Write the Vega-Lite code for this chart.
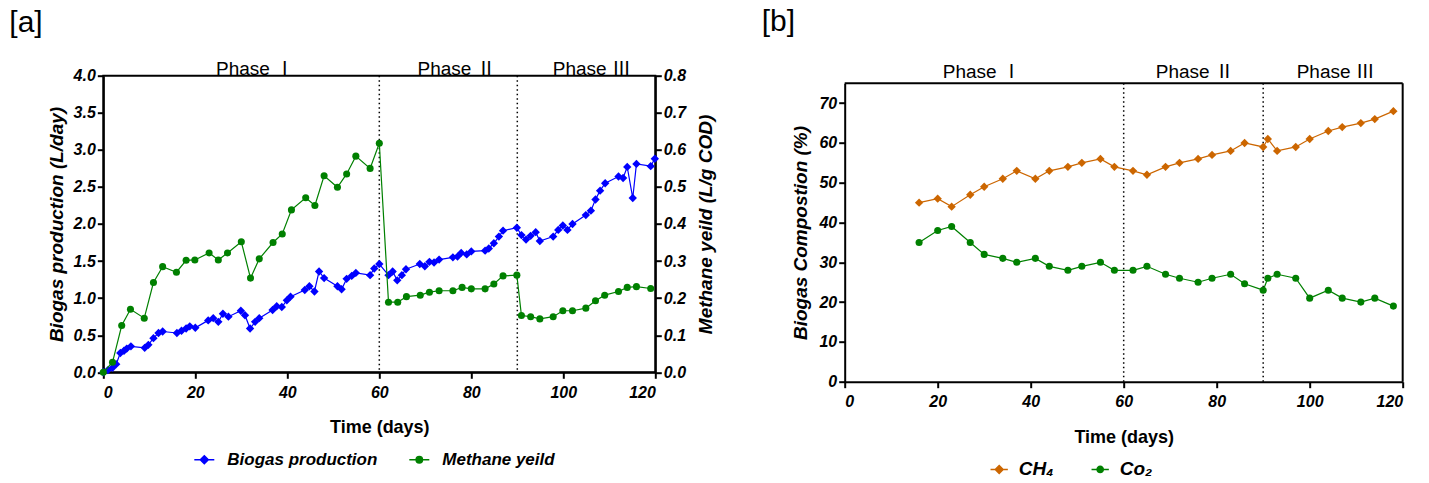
{
  "$schema": "https://vega.github.io/schema/vega-lite/v6.json",
  "autosize": {"type": "none"},
  "padding": {"left": 103.3, "top": 75.7, "right": 1325, "bottom": 407},
  "bounds": "flush",
  "spacing": 189.4,
  "background": "white",
  "resolve": {"scale": {"fill": "independent", "stroke": "independent", "shape": "independent"}, "legend": {"fill": "independent", "stroke": "independent", "shape": "independent"}},
  "config": {
    "font": "Liberation Sans",
    "axis": {
      "domainColor": "black", "domainWidth": 2, "tickColor": "black", "tickWidth": 2, "tickSize": 6,
      "labelFont": "Liberation Sans", "labelFontSize": 16, "labelFontWeight": "bold",
      "labelFontStyle": "italic", "labelColor": "black", "labelPadding": 2, "labelOverlap": false,
      "titleFont": "Liberation Sans", "titleFontSize": 19, "titleFontWeight": "bold", "titleFontStyle": "italic",
      "titleColor": "black", "grid": false
    },
    "axisX": {"labelPadding": 6, "titleFontStyle": "normal", "titleFontSize": 18},
    "legend": {
      "labelFont": "Liberation Sans", "labelFontWeight": "bold", "labelFontStyle": "italic", "labelColor": "black",
      "padding": 0, "orient": "none", "direction": "horizontal"
    },
    "title": {"font": "Liberation Sans", "fontSize": 30, "fontWeight": "normal", "color": "black", "anchor": "start", "frame": "group", "baseline": "alphabetic"}
  },
  "datasets": {
    "biogas": [
      {"day":0,"v":0.0},{"day":1,"v":0.03},{"day":2,"v":0.06},{"day":2.8,"v":0.11},{"day":3.7,"v":0.26},{"day":4.5,"v":0.29},{"day":5.1,"v":0.32},{"day":6,"v":0.35},
      {"day":9,"v":0.33},{"day":9.8,"v":0.37},{"day":10.9,"v":0.46},{"day":12,"v":0.53},{"day":12.9,"v":0.55},{"day":16,"v":0.53},{"day":17,"v":0.56},{"day":18,"v":0.59},
      {"day":18.8,"v":0.62},{"day":20,"v":0.6},{"day":22.8,"v":0.7},{"day":23.9,"v":0.73},{"day":25,"v":0.68},{"day":26,"v":0.79},{"day":27.2,"v":0.75},{"day":29.9,"v":0.83},
      {"day":30.8,"v":0.77},{"day":31.9,"v":0.59},{"day":33,"v":0.68},{"day":33.9,"v":0.73},{"day":36.8,"v":0.84},{"day":37.7,"v":0.89},{"day":38.8,"v":0.88},{"day":39.9,"v":0.97},
      {"day":40.7,"v":1.02},{"day":43.8,"v":1.11},{"day":44.8,"v":1.16},{"day":45.9,"v":1.09},{"day":46.9,"v":1.36},{"day":48,"v":1.27},{"day":50.9,"v":1.16},{"day":51.8,"v":1.12},
      {"day":52.9,"v":1.26},{"day":54,"v":1.3},{"day":54.9,"v":1.34},{"day":58,"v":1.31},{"day":58.9,"v":1.4},{"day":60,"v":1.46},{"day":62,"v":1.31},{"day":62.9,"v":1.36},
      {"day":63.9,"v":1.24},{"day":64.9,"v":1.31},{"day":65.8,"v":1.39},{"day":68.8,"v":1.46},{"day":69.9,"v":1.43},{"day":70.9,"v":1.49},{"day":71.9,"v":1.48},{"day":73,"v":1.52},
      {"day":76,"v":1.55},{"day":77,"v":1.56},{"day":77.8,"v":1.61},{"day":79,"v":1.59},{"day":80,"v":1.63},{"day":83,"v":1.64},{"day":83.8,"v":1.67},{"day":84.9,"v":1.74},
      {"day":86,"v":1.83},{"day":86.9,"v":1.91},{"day":89.9,"v":1.95},{"day":90.9,"v":1.85},{"day":91.9,"v":1.79},{"day":92.9,"v":1.84},{"day":94,"v":1.89},{"day":94.9,"v":1.77},
      {"day":97.8,"v":1.83},{"day":98.9,"v":1.92},{"day":99.9,"v":1.98},{"day":100.9,"v":1.92},{"day":102,"v":2.0},{"day":104.9,"v":2.12},{"day":106,"v":2.18},{"day":107,"v":2.33},
      {"day":108,"v":2.45},{"day":109.1,"v":2.55},{"day":112,"v":2.64},{"day":113,"v":2.62},{"day":113.9,"v":2.77},{"day":115.1,"v":2.35},{"day":115.9,"v":2.81},{"day":119,"v":2.78},
      {"day":119.9,"v":2.88}
    ],
    "methane": [
      {"day":0,"v":0.0},{"day":2,"v":0.027},{"day":4,"v":0.126},{"day":5.9,"v":0.17},{"day":8.9,"v":0.146},{"day":10.9,"v":0.242},{"day":12.9,"v":0.285},{"day":15.9,"v":0.27},
      {"day":18,"v":0.302},{"day":19.9,"v":0.303},{"day":23,"v":0.322},{"day":25,"v":0.303},{"day":27,"v":0.322},{"day":30,"v":0.352},{"day":32,"v":0.254},{"day":33.9,"v":0.306},
      {"day":36.9,"v":0.35},{"day":38.9,"v":0.373},{"day":40.9,"v":0.438},{"day":44,"v":0.471},{"day":46,"v":0.45},{"day":48,"v":0.53},{"day":50.9,"v":0.499},{"day":52.9,"v":0.535},
      {"day":54.9,"v":0.583},{"day":58,"v":0.55},{"day":60,"v":0.618},{"day":62,"v":0.189},{"day":64,"v":0.189},{"day":65.9,"v":0.204},{"day":68.9,"v":0.208},{"day":70.9,"v":0.216},
      {"day":73,"v":0.22},{"day":76,"v":0.22},{"day":78,"v":0.229},{"day":80,"v":0.225},{"day":83,"v":0.225},{"day":84.9,"v":0.238},{"day":86.9,"v":0.26},{"day":89.9,"v":0.262},
      {"day":90.9,"v":0.153},{"day":92.9,"v":0.15},{"day":94.9,"v":0.144},{"day":97.8,"v":0.15},{"day":99.9,"v":0.166},{"day":102,"v":0.166},{"day":104.9,"v":0.173},{"day":107,"v":0.193},
      {"day":109,"v":0.208},{"day":112,"v":0.218},{"day":113.9,"v":0.229},{"day":115.9,"v":0.231},{"day":119,"v":0.226}
    ],
    "ch4": [
      {"day":16,"v":45},{"day":20,"v":46},{"day":23,"v":44},{"day":27,"v":47},{"day":30,"v":49},{"day":34,"v":51},{"day":37,"v":53},{"day":41,"v":51},
      {"day":44,"v":53},{"day":48,"v":54},{"day":51,"v":55},{"day":55,"v":56},{"day":58,"v":54},{"day":62,"v":53},{"day":65,"v":52},{"day":69,"v":54},
      {"day":72,"v":55},{"day":76,"v":56},{"day":79,"v":57},{"day":83,"v":58},{"day":86,"v":60},{"day":90,"v":59},{"day":91,"v":61},{"day":93,"v":58},
      {"day":97,"v":59},{"day":100,"v":61},{"day":104,"v":63},{"day":107,"v":64},{"day":111,"v":65},{"day":114,"v":66},{"day":118,"v":68}
    ],
    "co2": [
      {"day":16,"v":35},{"day":20,"v":38},{"day":23,"v":39},{"day":27,"v":35},{"day":30,"v":32},{"day":34,"v":31},{"day":37,"v":30},{"day":41,"v":31},
      {"day":44,"v":29},{"day":48,"v":28},{"day":51,"v":29},{"day":55,"v":30},{"day":58,"v":28},{"day":62,"v":28},{"day":65,"v":29},{"day":69,"v":27},
      {"day":72,"v":26},{"day":76,"v":25},{"day":79,"v":26},{"day":83,"v":27},{"day":86,"v":24.6},{"day":90,"v":23},{"day":91,"v":26},{"day":93,"v":27},
      {"day":97,"v":26},{"day":100,"v":21},{"day":104,"v":23},{"day":107,"v":21},{"day":111,"v":20},{"day":114,"v":21},{"day":118,"v":19}
    ],
    "phasesA": [{"day":33,"label":"Phase Ⅰ"},{"day":76.8,"label":"Phase Ⅱ"},{"day":106.2,"label":"Phase Ⅲ"}],
    "phasesB": [{"day":29.5,"label":"Phase Ⅰ"},{"day":75.3,"label":"Phase Ⅱ"},{"day":105.6,"label":"Phase Ⅲ"}],
    "dividers": [{"day":60},{"day":90}],
    "frame": [{"edge":"frame"}]
  },
  "hconcat": [
    {
      "width": 552,
      "height": 296.6,
      "title": {"text": "[a]", "dx": -94, "offset": 22},
      "view": {"stroke": "black", "strokeWidth": 2},
      "layer": [
        {
          "layer": [
            {
              "data": {"name": "dividers"},
              "mark": {"type": "rule", "color": "black", "strokeWidth": 1.5, "strokeDash": [1.5, 3]},
              "encoding": {"x": {"field": "day", "type": "quantitative", "title": "Time (days)"}}
            },
            {
              "data": {"name": "phasesA"},
              "mark": {"type": "text", "fontSize": 19, "font": "Liberation Sans, Noto Sans CJK SC", "baseline": "alphabetic", "dy": -1, "color": "black"},
              "encoding": {
                "x": {"field": "day", "type": "quantitative", "title": "Time (days)"},
                "y": {"datum": 4, "type": "quantitative", "title": "Biogas production (L/day)",
                      "axis": {"values": [0, 0.5, 1, 1.5, 2, 2.5, 3, 3.5, 4], "format": ".1f", "titlePadding": 7, "labelOverlap": false}},
                "text": {"field": "label"}
              }
            },
            {
              "data": {"name": "biogas"},
              "mark": {"type": "line", "color": "#0000FF", "strokeWidth": 1.2},
              "encoding": {
                "x": {"field": "day", "type": "quantitative", "title": "Time (days)",
                      "scale": {"domain": [0, 120], "nice": false},
                      "axis": {"values": [0, 20, 40, 60, 80, 100, 120], "titlePadding": 18}},
                "y": {"field": "v", "type": "quantitative", "title": "Biogas production (L/day)",
                      "scale": {"domain": [0, 4], "nice": false},
                      "axis": {"values": [0, 0.5, 1, 1.5, 2, 2.5, 3, 3.5, 4], "format": ".1f", "titlePadding": 7, "labelOverlap": false}}
              }
            },
            {
              "data": {"name": "biogas"},
              "mark": {"type": "point", "filled": true, "shape": "diamond", "size": 70, "color": "#0000FF", "opacity": 1},
              "encoding": {
                "x": {"field": "day", "type": "quantitative", "title": "Time (days)"},
                "y": {"field": "v", "type": "quantitative", "title": "Biogas production (L/day)",
                      "axis": {"values": [0, 0.5, 1, 1.5, 2, 2.5, 3, 3.5, 4], "format": ".1f", "titlePadding": 7, "labelOverlap": false}}
              }
            },
            {
              "data": {"values": []},
              "mark": {"type": "point", "filled": true, "opacity": 1, "strokeWidth": 1.5},
              "encoding": {
                "fill": {"field": "s", "type": "nominal",
                         "scale": {"domain": ["Biogas production", "Methane yeild"], "range": ["#0000FF", "#008000"]},
                         "legend": {"title": null, "legendX": 90, "legendY": 373, "labelFontSize": 17, "symbolSize": 400,
                                    "labelOffset": 12, "columnPadding": 28, "symbolStrokeWidth": 1.5, "labelLimit": 400}},
                "stroke": {"field": "s", "type": "nominal",
                           "scale": {"domain": ["Biogas production", "Methane yeild"], "range": ["#0000FF", "#008000"]}},
                "shape": {"field": "s", "type": "nominal",
                          "scale": {"domain": ["Biogas production", "Methane yeild"],
                                    "range": ["M-1,0L1,0M0,-0.4L0.4,0L0,0.4L-0.4,0Z", "M-1,0L1,0M0.32,0A0.32,0.32,0,1,1,-0.32,0A0.32,0.32,0,1,1,0.32,0Z"]}}
              }
            }
          ]
        },
        {
          "layer": [
            {
              "data": {"name": "methane"},
              "mark": {"type": "line", "color": "#008000", "strokeWidth": 1.2},
              "encoding": {
                "x": {"field": "day", "type": "quantitative", "title": "Time (days)"},
                "y": {"field": "v", "type": "quantitative", "title": "Methane yeild (L/g COD)",
                      "scale": {"domain": [0, 0.8], "nice": false},
                      "axis": {"orient": "right", "values": [0, 0.1, 0.2, 0.3, 0.4, 0.5, 0.6, 0.7, 0.8], "format": ".1f", "titleAngle": 270, "titlePadding": 30, "labelOverlap": false}}
              }
            },
            {
              "data": {"name": "methane"},
              "mark": {"type": "point", "filled": true, "shape": "circle", "size": 50, "color": "#008000", "opacity": 1},
              "encoding": {
                "x": {"field": "day", "type": "quantitative", "title": "Time (days)"},
                "y": {"field": "v", "type": "quantitative", "title": "Methane yeild (L/g COD)",
                      "axis": {"orient": "right", "values": [0, 0.1, 0.2, 0.3, 0.4, 0.5, 0.6, 0.7, 0.8], "format": ".1f", "titleAngle": 270, "titlePadding": 30, "labelOverlap": false}}
              }
            }
          ]
        }
      ],
      "resolve": {"scale": {"y": "independent"}}
    },
    {
      "width": 558,
      "height": 306,
      "title": {"text": "[b]", "dx": -83, "offset": 26},
      "view": {"stroke": null},
      "layer": [
        {
          "data": {"name": "frame"},
          "mark": {"type": "rule", "color": "black", "strokeWidth": 2},
          "encoding": {
            "x": {"datum": 0, "type": "quantitative", "title": "Time (days)",
                  "scale": {"domain": [0, 120], "nice": false},
                  "axis": {"values": [0, 20, 40, 60, 80, 100, 120], "titlePadding": 19}},
            "x2": {"datum": 120},
            "y": {"datum": 75, "type": "quantitative", "title": "Biogas Compostion (%)",
                  "scale": {"domain": [0, 75], "nice": false, "range": [306, 7.6]},
                  "axis": {"values": [0, 10, 20, 30, 40, 50, 60, 70], "titlePadding": 8}}
          }
        },
        {
          "data": {"name": "frame"},
          "mark": {"type": "rule", "color": "black", "strokeWidth": 2},
          "encoding": {"x": {"datum": 120, "type": "quantitative"}, "y": {"datum": 0, "type": "quantitative"}, "y2": {"datum": 75}}
        },
        {
          "data": {"name": "dividers"},
          "mark": {"type": "rule", "color": "black", "strokeWidth": 1.5, "strokeDash": [1.5, 3]},
          "encoding": {"x": {"field": "day", "type": "quantitative", "title": "Time (days)"}, "y": {"datum": 0, "type": "quantitative"}, "y2": {"datum": 75}}
        },
        {
          "data": {"name": "phasesB"},
          "mark": {"type": "text", "fontSize": 19, "font": "Liberation Sans, Noto Sans CJK SC", "baseline": "alphabetic", "dy": -5, "color": "black"},
          "encoding": {"x": {"field": "day", "type": "quantitative", "title": "Time (days)"}, "y": {"datum": 75, "type": "quantitative"}, "text": {"field": "label"}}
        },
        {
          "data": {"name": "ch4"},
          "mark": {"type": "line", "color": "#CC6600", "strokeWidth": 1.2},
          "encoding": {"x": {"field": "day", "type": "quantitative", "title": "Time (days)"}, "y": {"field": "v", "type": "quantitative", "title": "Biogas Compostion (%)"}}
        },
        {
          "data": {"name": "ch4"},
          "mark": {"type": "point", "filled": true, "shape": "diamond", "size": 70, "color": "#CC6600", "opacity": 1},
          "encoding": {"x": {"field": "day", "type": "quantitative", "title": "Time (days)"}, "y": {"field": "v", "type": "quantitative", "title": "Biogas Compostion (%)"}}
        },
        {
          "data": {"name": "co2"},
          "mark": {"type": "line", "color": "#008000", "strokeWidth": 1.2},
          "encoding": {"x": {"field": "day", "type": "quantitative", "title": "Time (days)"}, "y": {"field": "v", "type": "quantitative", "title": "Biogas Compostion (%)"}}
        },
        {
          "data": {"name": "co2"},
          "mark": {"type": "point", "filled": true, "shape": "circle", "size": 50, "color": "#008000", "opacity": 1},
          "encoding": {"x": {"field": "day", "type": "quantitative", "title": "Time (days)"}, "y": {"field": "v", "type": "quantitative", "title": "Biogas Compostion (%)"}}
        },
        {
          "data": {"values": []},
          "mark": {"type": "point", "filled": true, "opacity": 1, "strokeWidth": 1.5},
          "encoding": {
            "fill": {"field": "s", "type": "nominal",
                     "scale": {"domain": ["CH₄", "Co₂"], "range": ["#CC6600", "#008000"]},
                     "legend": {"title": null, "legendX": 145, "legendY": 384, "labelFontSize": 19, "symbolSize": 300,
                                "labelOffset": 10, "columnPadding": 33, "symbolStrokeWidth": 1.5}},
            "stroke": {"field": "s", "type": "nominal",
                       "scale": {"domain": ["CH₄", "Co₂"], "range": ["#CC6600", "#008000"]}},
            "shape": {"field": "s", "type": "nominal",
                      "scale": {"domain": ["CH₄", "Co₂"],
                                "range": ["M-1,0L1,0M0,-0.45L0.45,0L0,0.45L-0.45,0Z", "M-1,0L1,0M0.36,0A0.36,0.36,0,1,1,-0.36,0A0.36,0.36,0,1,1,0.36,0Z"]}}
          }
        }
      ]
    }
  ]
}
